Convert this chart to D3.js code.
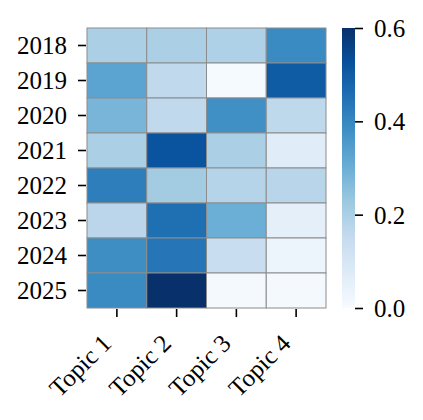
<!DOCTYPE html>
<html>
<head>
<meta charset="utf-8">
<script src="https://cdn.jsdelivr.net/npm/d3@7"></script>
<style>
  body { margin: 0; background: #fff; }
  text { font-family: "Liberation Serif", serif; fill: #000; }
</style>
</head>
<body>
<div id="chart"></div>
<script>
const years = ["2018", "2019", "2020", "2021", "2022", "2023", "2024", "2025"];
const topics = ["Topic 1", "Topic 2", "Topic 3", "Topic 4"];
// one row per year, one value per topic
const values = [
  [0.20, 0.20, 0.195, 0.39],
  [0.33, 0.16, 0.005, 0.50],
  [0.28, 0.16, 0.38, 0.165],
  [0.20, 0.52, 0.20, 0.07],
  [0.42, 0.215, 0.18, 0.175],
  [0.17, 0.455, 0.30, 0.055],
  [0.385, 0.44, 0.14, 0.03],
  [0.39, 0.60, 0.01, 0.01]
];
const cbTicks = [0.0, 0.2, 0.4, 0.6];

const w = 423, h = 420;
const hm = { left: 87, right: 326, top: 28, bottom: 308 };
const fontSize = "25px";

// matplotlib "Blues"
const blues = ["#f7fbff", "#deebf7", "#c6dbef", "#9ecae1", "#6baed6", "#4292c6", "#2171b5", "#08519c", "#08306b"];
const color = d3.scaleLinear()
    .domain(d3.range(blues.length).map(i => 0.6 * i / (blues.length - 1)))
    .range(blues)
    .interpolate(d3.interpolateRgb)
    .clamp(true);

const svg = d3.select("#chart").append("svg")
    .attr("width", w)
    .attr("height", h);

const x = d3.scaleBand().domain(topics).range([hm.left, hm.right]);
const y = d3.scaleBand().domain(years).range([hm.top, hm.bottom]);

const cells = [];
values.forEach((row, i) => row.forEach((v, j) => cells.push({ year: years[i], topic: topics[j], v: v })));

svg.selectAll(".cell")
    .data(cells)
    .enter()
    .append("rect")
    .attr("class", "cell")
    .attr("x", d => x(d.topic))
    .attr("y", d => y(d.year))
    .attr("width", x.bandwidth())
    .attr("height", y.bandwidth())
    .style("fill", d => color(d.v))
    .style("stroke", "#8c8c8c")
    .style("stroke-width", 1);

// y axis
const yAxis = svg.append("g")
    .attr("transform", `translate(${hm.left - 1},0)`)
    .call(d3.axisLeft(y).tickSize(8).tickPadding(11));
yAxis.select(".domain").remove();
yAxis.selectAll(".tick line").attr("stroke", "#000").attr("stroke-width", 1.6);
yAxis.selectAll(".tick text")
    .style("font-family", "'Liberation Serif', serif")
    .style("font-size", fontSize)
    .attr("dy", "0.34em");

// x axis, labels rotated 45 degrees
const xAxis = svg.append("g")
    .attr("transform", `translate(0,${hm.bottom + 1})`)
    .call(d3.axisBottom(x).tickSize(8));
xAxis.select(".domain").remove();
xAxis.selectAll(".tick line").attr("stroke", "#000").attr("stroke-width", 1.6);
xAxis.selectAll(".tick text")
    .style("font-family", "'Liberation Serif', serif")
    .style("font-size", fontSize)
    .attr("text-anchor", "end")
    .attr("x", 0)
    .attr("y", 0)
    .attr("dy", 0)
    .attr("transform", "translate(-4,36) rotate(-45)");

// colorbar
const cb = { x: 342, w: 13 };
const cbScale = d3.scaleLinear().domain([0, 0.6]).range([hm.bottom, hm.top]);

const defs = svg.append("defs");
const grad = defs.append("linearGradient")
    .attr("id", "cbgrad")
    .attr("x1", 0).attr("y1", 1).attr("x2", 0).attr("y2", 0);
blues.forEach((c, i) => {
    grad.append("stop")
        .attr("offset", i / (blues.length - 1))
        .attr("stop-color", c);
});

svg.append("rect")
    .attr("x", cb.x)
    .attr("y", hm.top)
    .attr("width", cb.w)
    .attr("height", hm.bottom - hm.top)
    .style("fill", "url(#cbgrad)");

const cAxis = svg.append("g")
    .attr("transform", `translate(${cb.x + cb.w},0)`)
    .call(d3.axisRight(cbScale).tickValues(cbTicks).tickFormat(d3.format(".1f")).tickSize(8).tickPadding(11));
cAxis.select(".domain").remove();
cAxis.selectAll(".tick line").attr("stroke", "#000").attr("stroke-width", 1.6);
cAxis.selectAll(".tick text")
    .style("font-family", "'Liberation Serif', serif")
    .style("font-size", fontSize)
    .attr("dy", "0.34em");
</script>
</body>
</html>
